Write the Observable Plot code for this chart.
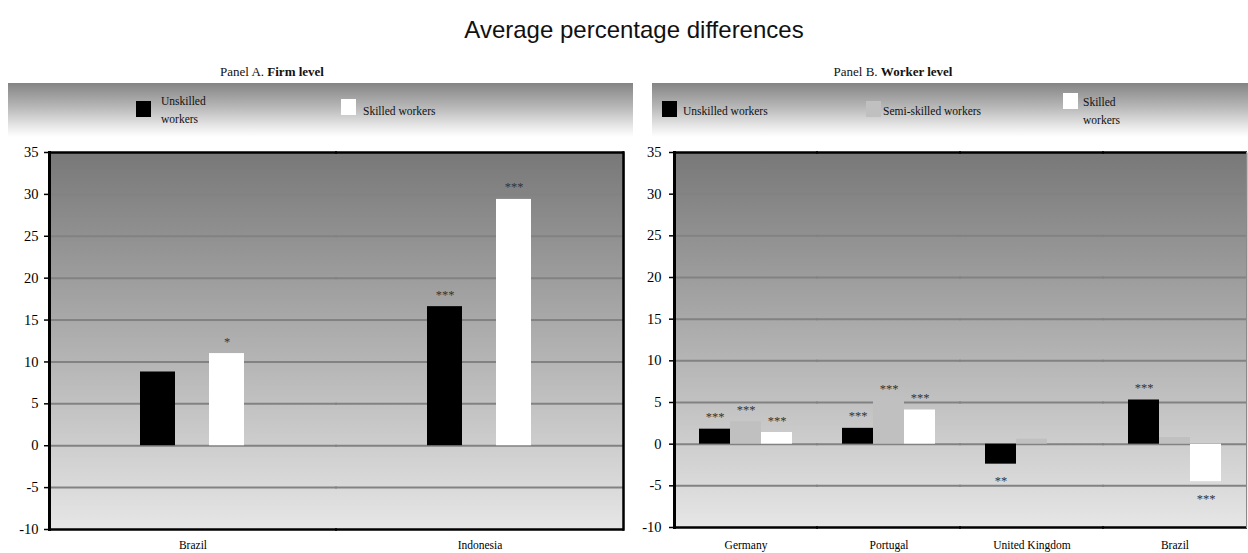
<!DOCTYPE html>
<html><head><meta charset="utf-8">
<script src="https://cdn.jsdelivr.net/npm/d3@7"></script>
<script src="https://cdn.jsdelivr.net/npm/@observablehq/plot@0.6"></script>
<style>
body{margin:0;background:#fff;width:1248px;height:553px;position:relative;overflow:hidden;font-family:"Liberation Serif","Times New Roman",serif;color:#111;}
.abs{position:absolute;}
#title{left:0;width:1268px;top:16px;line-height:28px;text-align:center;font-family:"Liberation Sans",Arial,sans-serif;font-size:24px;color:#111;}
.ptitle{width:240px;text-align:center;font-size:13px;line-height:16px;top:64px;}
.legbox{top:83px;height:54px;background:linear-gradient(to bottom,#848484 0%,#b8b8b8 45%,#eeeeee 85%,#ffffff 100%);}
.sw{width:15px;height:16px;}
.lt{font-size:11.5px;line-height:18px;}
</style></head>
<body>
<div id="title" class="abs">Average percentage differences</div>
<div class="abs ptitle" style="left:152px">Panel A. <b>Firm level</b></div>
<div class="abs ptitle" style="left:773px">Panel B. <b>Worker level</b></div>
<div class="abs legbox" style="left:8px;width:625px"></div>
<div class="abs legbox" style="left:652px;width:596px"></div>
<div id="legA"></div>
<div id="legB"></div>
<div id="plotA" class="abs" style="left:0;top:140px"></div>
<div id="plotB" class="abs" style="left:625px;top:140px"></div>
<script>
// ---- data ----
const yTicks = [-10, -5, 0, 5, 10, 15, 20, 25, 30, 35];
const gridTicks = [-5, 0, 5, 10, 15, 20, 25, 30];

const seriesA = ["Unskilled workers", "Skilled workers"];
const colorsA = ["#000000", "#ffffff"];
const countriesA = ["Brazil", "Indonesia"];
const unskilledA = [8.8, 16.6];
const skilledA = [11.0, 29.4];
const starsUnskilledA = ["", "***"];
const starsSkilledA = ["*", "***"];

const seriesB = ["Unskilled workers", "Semi-skilled workers", "Skilled workers"];
const colorsB = ["#000000", "#c0c0c0", "#ffffff"];
const countriesB = ["Germany", "Portugal", "United Kingdom", "Brazil"];
const unskilledB = [1.8, 1.9, -2.4, 5.3];
const semiB = [2.7, 5.2, 0.6, 0.8];
const skilledB = [1.4, 4.1, 0.0, -4.5];
const starsUnskilledB = ["***", "***", "**", "***"];
const starsSemiB = ["***", "***", "", ""];
const starsSkilledB = ["***", "***", "", "***"];

// ---- tables ----
const rowsA = countriesA.flatMap((c, i) => [
  {country: c, series: seriesA[0], value: unskilledA[i], stars: starsUnskilledA[i]},
  {country: c, series: seriesA[1], value: skilledA[i], stars: starsSkilledA[i]}
]);
const rowsB = countriesB.flatMap((c, i) => [
  {country: c, series: seriesB[0], value: unskilledB[i], stars: starsUnskilledB[i]},
  {country: c, series: seriesB[1], value: semiB[i], stars: starsSemiB[i]},
  {country: c, series: seriesB[2], value: skilledB[i], stars: starsSkilledB[i]}
]);

const serif = '"Liberation Serif","Times New Roman",serif';

function panel(rows, countries, series, colors, o) {
  const svg = Plot.plot({
    width: o.width, height: 413,
    marginLeft: 48, marginRight: o.marginRight, marginTop: 12, marginBottom: o.marginBottom,
    style: {background: "transparent", fontFamily: serif, fontSize: "12px", color: "#000", overflow: "visible"},
    fx: {domain: countries, paddingInner: 0, paddingOuter: 0, label: null},
    x: {domain: series, paddingInner: o.pi, paddingOuter: o.po, axis: null},
    y: {domain: [-10, 35], label: null},
    color: {domain: series, range: colors},
    marks: [
      Plot.frame({fill: `url(#${o.grad})`, stroke: null, insetLeft: -1, insetRight: -1}),
      Plot.gridY(gridTicks, {stroke: "#828282", strokeOpacity: 1, strokeWidth: 2, insetLeft: -1, insetRight: -1}),
      Plot.barY(rows, {fx: "country", x: "series", y: "value", fill: "series"}),
      Plot.text(rows.filter(d => d.stars && d.value >= 0), {fx: "country", x: "series", y: "value", text: "stars", dy: -12, fill: "#333", fontSize: 12.5}),
      Plot.text(rows.filter(d => d.stars && d.value < 0), {fx: "country", x: "series", y: "value", text: "stars", dy: 17, fill: "#333", fontSize: 12.5}),
      Plot.ruleY([35, -10], {stroke: "#000", strokeWidth: 2.5, insetLeft: -1, insetRight: -1}),
      Plot.frame({anchor: "left", stroke: "#000", strokeWidth: 3, facetAnchor: "left"}),
      Plot.frame({anchor: "right", stroke: o.rightStroke, strokeWidth: o.rightWidth, facetAnchor: "right"}),
      Plot.axisY({ticks: yTicks, tickSize: 5, tickPadding: o.tp, fontSize: 14.5, strokeWidth: 1.5, tickFormat: d => String(d)}),
      Plot.axisFx({anchor: "bottom", tickSize: 0, tickPadding: o.fxp, fontSize: 11.5, label: null})
    ]
  });
  const defs = d3.select(svg).insert("defs", ":first-child");
  const g = defs.append("linearGradient").attr("id", o.grad).attr("x1", 0).attr("y1", 0).attr("x2", 0).attr("y2", 1);
  g.append("stop").attr("offset", 0).attr("stop-color", "#787878");
  g.append("stop").attr("offset", 1).attr("stop-color", "#e6e6e6");
  return svg;
}

document.getElementById("plotA").appendChild(panel(rowsA, countriesA, seriesA, colorsA,
  {width: 630, marginRight: 7, marginBottom: 24, pi: 0.486, po: 1.30, grad: "bgA", rightStroke: "#000", rightWidth: 2.5, tp: 6, fxp: 11}));
document.getElementById("plotB").appendChild(panel(rowsB, countriesB, seriesB, colorsB,
  {width: 623, marginRight: 1, marginBottom: 26, pi: 0, po: 0.742, grad: "bgB", rightStroke: "#8a8a8a", rightWidth: 1, tp: 8, fxp: 13}));

// ---- legends (HTML) ----
function legend(host, items) {
  const el = document.getElementById(host);
  items.forEach(it => {
    const sw = document.createElement("div");
    sw.className = "abs sw";
    sw.style.left = it.sx + "px"; sw.style.top = it.sy + "px"; sw.style.background = it.color;
    el.appendChild(sw);
    const t = document.createElement("div");
    t.className = "abs lt";
    t.style.left = it.tx + "px"; t.style.top = it.ty + "px";
    t.innerHTML = it.label;
    el.appendChild(t);
  });
}
legend("legA", [
  {color: colorsA[0], label: "Unskilled<br>workers", sx: 136, sy: 101, tx: 161, ty: 92},
  {color: colorsA[1], label: "Skilled workers", sx: 341, sy: 99, tx: 363, ty: 102}
]);
legend("legB", [
  {color: colorsB[0], label: "Unskilled workers", sx: 662, sy: 101, tx: 683, ty: 102},
  {color: colorsB[1], label: "Semi-skilled workers", sx: 866, sy: 101, tx: 883, ty: 102},
  {color: colorsB[2], label: "Skilled<br>workers", sx: 1063, sy: 93, tx: 1083, ty: 93}
]);
</script>
</body></html>
